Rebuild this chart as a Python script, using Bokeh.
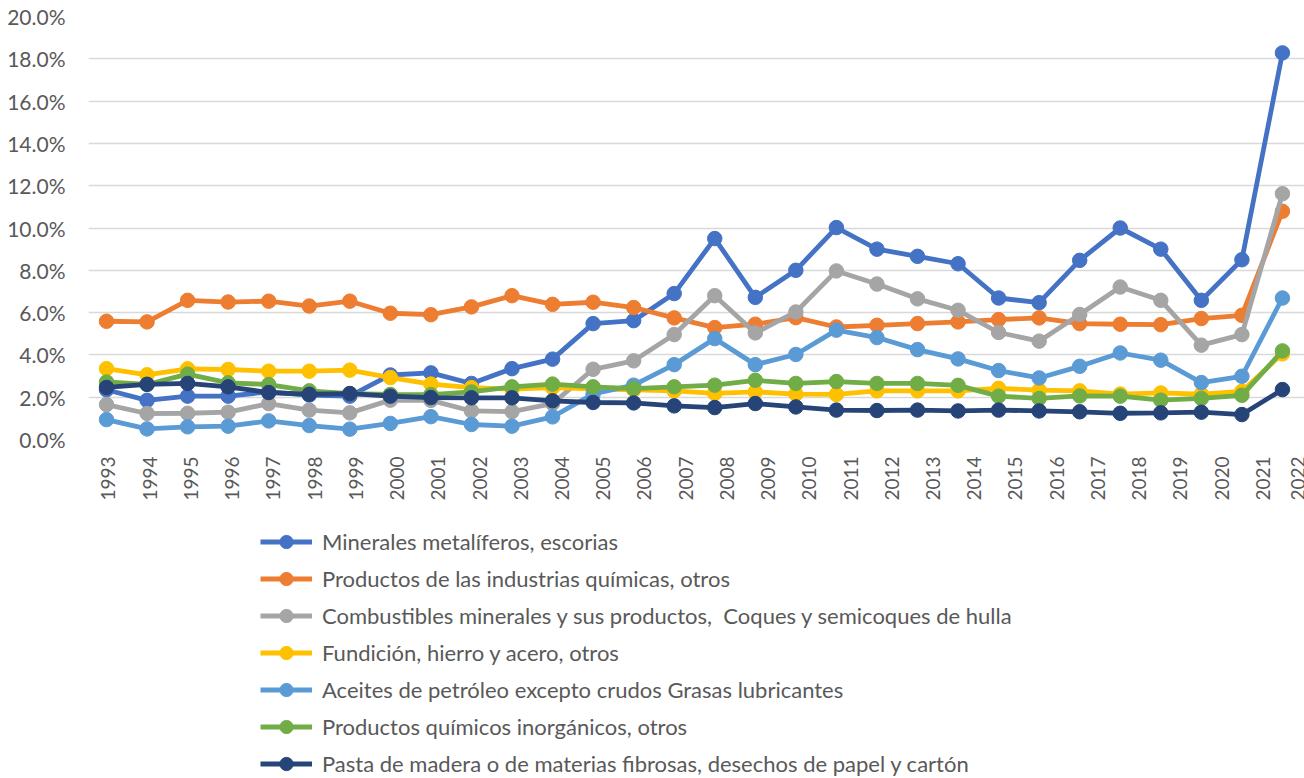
import numpy as np
from bokeh.plotting import figure
from bokeh.layouts import column
from bokeh.models import Range1d, LinearAxis, FixedTicker, NumeralTickFormatter, BasicTickFormatter, Legend
from bokeh.embed import file_html
from bokeh.resources import INLINE

years = list(range(1993, 2023))

series_names = [
    "Minerales metalíferos, escorias",
    "Productos de las industrias químicas, otros",
    "Combustibles minerales y sus productos,  Coques y semicoques de hulla",
    "Fundición, hierro y acero, otros",
    "Aceites de petróleo excepto crudos Grasas lubricantes",
    "Productos químicos inorgánicos, otros",
    "Pasta de madera o de materias fibrosas, desechos de papel y cartón",
]

minerales = [2.35, 1.85, 2.05, 2.05, 2.25, 2.10, 2.05, 3.05, 3.15, 2.65, 3.35, 3.80, 5.48, 5.62, 6.90,
             9.50, 6.72, 8.00, 10.02, 9.00, 8.66, 8.31, 6.69, 6.47, 8.47, 10.00, 9.00, 6.58, 8.50, 18.28]
quimicas = [5.59, 5.56, 6.58, 6.50, 6.54, 6.31, 6.54, 5.97, 5.90, 6.27, 6.80, 6.39, 6.49, 6.24, 5.75,
            5.29, 5.45, 5.76, 5.32, 5.40, 5.48, 5.56, 5.67, 5.75, 5.48, 5.45, 5.43, 5.72, 5.87, 10.79]
combustibles = [1.65, 1.23, 1.24, 1.29, 1.70, 1.39, 1.26, 1.86, 1.85, 1.35, 1.32, 1.70, 3.32, 3.72, 4.96,
                6.80, 5.04, 6.03, 7.97, 7.35, 6.65, 6.11, 5.06, 4.65, 5.91, 7.21, 6.58, 4.46, 4.96, 11.62]
fundicion = [3.35, 3.06, 3.34, 3.31, 3.23, 3.23, 3.28, 2.93, 2.62, 2.45, 2.38, 2.45, 2.40, 2.35, 2.30,
             2.18, 2.25, 2.15, 2.13, 2.30, 2.30, 2.30, 2.42, 2.33, 2.30, 2.15, 2.20, 2.14, 2.28, 4.05]
aceites = [0.94, 0.50, 0.60, 0.63, 0.88, 0.66, 0.49, 0.76, 1.08, 0.71, 0.63, 1.07, 2.15, 2.57, 3.54,
           4.77, 3.54, 4.02, 5.17, 4.82, 4.25, 3.81, 3.26, 2.91, 3.46, 4.09, 3.75, 2.69, 2.99, 6.69]
inorganicos = [2.72, 2.60, 3.09, 2.68, 2.60, 2.30, 2.17, 2.13, 2.12, 2.25, 2.49, 2.62, 2.49, 2.41, 2.49,
               2.57, 2.80, 2.65, 2.74, 2.65, 2.65, 2.56, 2.05, 1.94, 2.06, 2.05, 1.86, 1.94, 2.09, 4.19]
pasta = [2.46, 2.61, 2.65, 2.49, 2.22, 2.14, 2.17, 2.05, 1.98, 1.97, 1.97, 1.83, 1.75, 1.73, 1.59,
         1.51, 1.70, 1.54, 1.39, 1.37, 1.39, 1.35, 1.39, 1.35, 1.31, 1.24, 1.26, 1.29, 1.18, 2.36]

series_values = [minerales, quimicas, combustibles, fundicion, aceites, inorganicos, pasta]
colors = ["#4472C4", "#ED7D31", "#A5A5A5", "#FFC000", "#5B9BD5", "#70AD47", "#264478"]

y_ticks = [0.0, 0.02, 0.04, 0.06, 0.08, 0.10, 0.12, 0.14, 0.16, 0.18, 0.20]
x_tick_years = list(range(1993, 2023))

FONT = "Lato"
TXT = "#595959"
LW = 4.8
MS = 14.5

# ---------------- main chart ----------------
p = figure(width=1304, height=510, output_backend="svg", toolbar_location=None,
           x_range=Range1d(1992.516, 2022.01), y_range=Range1d(0, 0.20),
           min_border_left=88, min_border_right=0, min_border_top=16, min_border_bottom=71,
           x_axis_type=None)
p.extra_x_ranges = {"pts": Range1d(1992.556, 2022.544)}
p.outline_line_color = None
p.background_fill_color = "white"
p.border_fill_color = "white"
p.xgrid.visible = False
p.ygrid.grid_line_color = "#D9D9D9"
p.ygrid.grid_line_width = 1.3
p.ygrid.ticker = FixedTicker(ticks=y_ticks)

xa = LinearAxis(ticker=FixedTicker(ticks=x_tick_years),
                formatter=BasicTickFormatter(use_scientific=False))
xa.axis_line_color = None
xa.major_tick_line_color = None
xa.minor_tick_line_color = None
xa.major_tick_out = 0
xa.major_label_standoff = 17
xa.major_label_orientation = np.pi / 2
xa.major_label_text_font = FONT
xa.major_label_text_font_size = "19px"
xa.major_label_text_color = TXT
p.add_layout(xa, "below")

ya = p.yaxis[0]
ya.ticker = FixedTicker(ticks=y_ticks)
ya.formatter = NumeralTickFormatter(format="0.0%")
ya.axis_line_color = None
ya.major_tick_line_color = None
ya.minor_tick_line_color = None
ya.major_tick_out = 0
ya.major_label_standoff = 23
ya.major_label_text_font = FONT
ya.major_label_text_font_size = "21px"
ya.major_label_text_color = TXT

for name, vals, col in zip(series_names, series_values, colors):
    yv = np.array(vals) / 100.0
    p.line(years, yv, line_color=col, line_width=LW, x_range_name="pts")
    p.scatter(years, yv, size=MS, fill_color=col, line_color=col, x_range_name="pts")

# ---------------- legend panel ----------------
q = figure(width=1304, height=268, output_backend="svg", toolbar_location=None,
           x_range=Range1d(0, 1), y_range=Range1d(0, 1),
           x_axis_type=None, y_axis_type=None, min_border=0)
q.outline_line_color = None
q.grid.visible = False
q.background_fill_color = "white"
q.border_fill_color = "white"

items = []
for name, vals, col in zip(series_names, series_values, colors):
    yv = np.array(vals) / 100.0
    r1 = q.line(years, yv, line_color=col, line_width=LW)
    r2 = q.scatter(years, yv, size=MS, fill_color=col, line_color=col)
    items.append((name, [r1, r2]))

lg = Legend(items=items, location=(172, -2))
lg.margin = 0
lg.padding = 0
lg.spacing = 4
lg.glyph_width = 52
lg.glyph_height = 33
lg.label_height = 20
lg.label_standoff = 10
lg.border_line_color = None
lg.background_fill_alpha = 0
lg.label_text_font = FONT
lg.label_text_font_size = "22px"
lg.label_text_color = TXT
q.add_layout(lg, "center")

layout = column(p, q, spacing=0)
open("out.html", "w").write(file_html(layout, INLINE))
